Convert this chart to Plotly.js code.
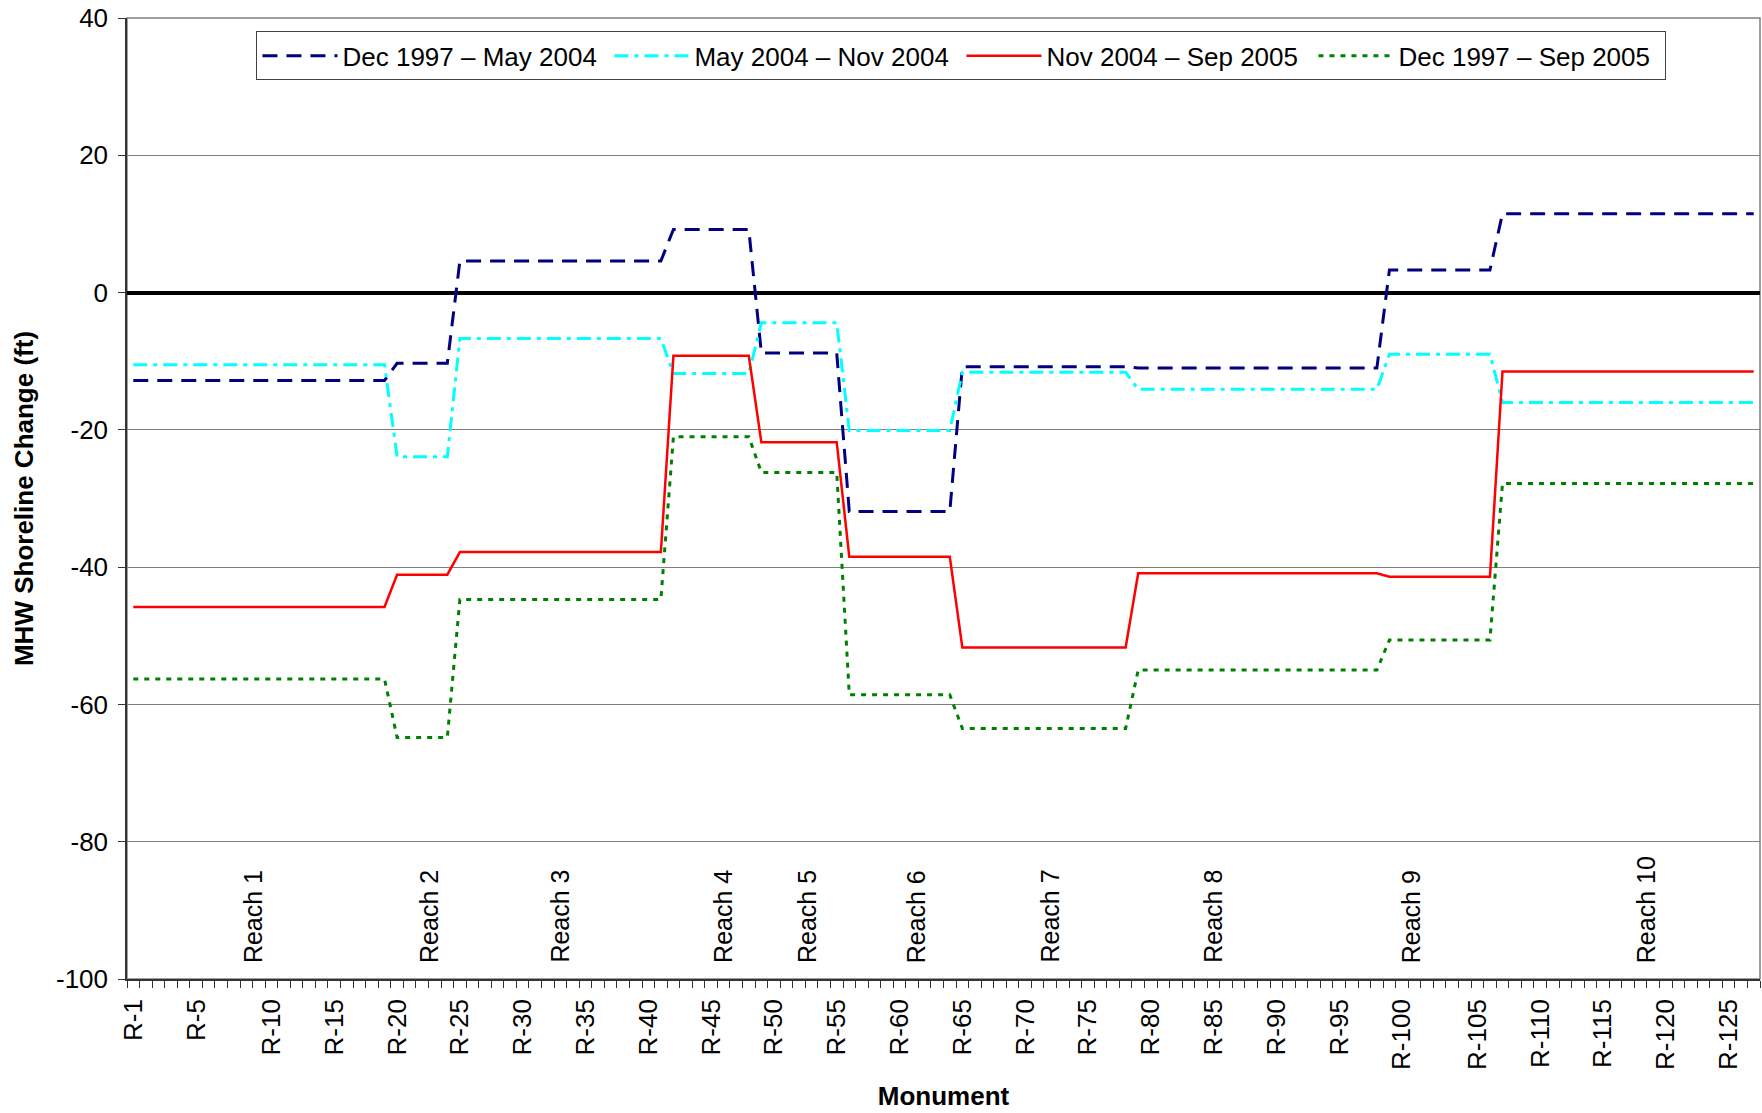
<!DOCTYPE html>
<html>
<head>
<meta charset="utf-8">
<script src="https://cdn.plot.ly/plotly-3.0.1.min.js"></script>
<style>
  html, body { margin: 0; padding: 0; background: #ffffff; }
  #chart { width: 1762px; height: 1113px; }
</style>
</head>
<body>
<div id="chart"></div>
<script>
// Monuments along the x axis (category order)
const monuments = [
  "R-1","R-2","R-3","R-3A","R-4","R-5","R-6","R-7","R-7A","R-8",
  "R-9","R-10","R-11","R-12","R-13","R-14","R-15","R-16","R-17","R-18",
  "R-19","R-20","R-21","R-22","R-23","R-24","R-25","R-26","R-27","R-28",
  "R-29","R-30","R-31","R-32","R-33","R-34","R-35","R-36","R-37","R-38",
  "R-39","R-40","R-41","R-42","R-43","R-44","R-45","R-46","R-47","R-48",
  "R-49","R-50","R-51","R-52","R-53","R-54","R-55","R-56","R-57","R-58",
  "R-59","R-60","R-61","R-62","R-63","R-64","R-65","R-66","R-67","R-68",
  "R-69","R-70","R-71","R-72","R-73","R-74","R-75","R-76","R-77","R-78",
  "R-79","R-80","R-81","R-82","R-83","R-84","R-85","R-86","R-87","R-88",
  "R-89","R-90","R-91","R-92","R-93","R-94","R-95","R-96","R-97","R-98",
  "R-99","R-100","R-101","R-102","R-102A","R-103","R-104","R-105","R-106","R-107",
  "R-108","R-109","R-110","R-111","R-112","R-113","R-114","R-115","R-116","R-117",
  "R-118","R-119","R-120","R-121","R-122","R-123","R-124","R-125","R-126","R-127"
];

// Labelled ticks on the x axis
const tickLabels = ["R-1","R-5","R-10","R-15","R-20","R-25","R-30","R-35","R-40","R-45",
  "R-50","R-55","R-60","R-65","R-70","R-75","R-80","R-85","R-90","R-95",
  "R-100","R-105","R-110","R-115","R-120","R-125"];

// Y tick labels
const yTickVals = [-100, -80, -60, -40, -20, 0, 20, 40];
const yTickText = ["-100", "-80", "-60", "-40", "-20", "0", "20", "40"];

// Series names
const seriesNames = ["Dec 1997 \u2013 May 2004", "May 2004 \u2013 Nov 2004",
                     "Nov 2004 \u2013 Sep 2005", "Dec 1997 \u2013 Sep 2005"];

// MHW shoreline change (ft), one value per monument
const dec97May04 = [
  -12.8,-12.8,-12.8,-12.8,-12.8,-12.8,-12.8,-12.8,-12.8,-12.8,-12.8,-12.8,-12.8,-12.8,-12.8,-12.8,-12.8,-12.8,-12.8,-12.8,-12.8,
  -10.3,-10.3,-10.3,-10.3,-10.3,
  4.6,4.6,4.6,4.6,4.6,4.6,4.6,4.6,4.6,4.6,4.6,4.6,4.6,4.6,4.6,4.6,4.6,
  9.2,9.2,9.2,9.2,9.2,9.2,9.2,
  -8.8,-8.8,-8.8,-8.8,-8.8,-8.8,-8.8,
  -31.9,-31.9,-31.9,-31.9,-31.9,-31.9,-31.9,-31.9,-31.9,
  -10.8,-10.8,-10.8,-10.8,-10.8,-10.8,-10.8,-10.8,-10.8,-10.8,-10.8,-10.8,-10.8,-10.8,
  -11.0,-11.0,-11.0,-11.0,-11.0,-11.0,-11.0,-11.0,-11.0,-11.0,-11.0,-11.0,-11.0,-11.0,-11.0,-11.0,-11.0,-11.0,-11.0,-11.0,
  3.3,3.3,3.3,3.3,3.3,3.3,3.3,3.3,3.3,
  11.5,11.5,11.5,11.5,11.5,11.5,11.5,11.5,11.5,11.5,11.5,11.5,11.5,11.5,11.5,11.5,11.5,11.5,11.5,11.5,11.5
];
const may04Nov04 = [
  -10.5,-10.5,-10.5,-10.5,-10.5,-10.5,-10.5,-10.5,-10.5,-10.5,-10.5,-10.5,-10.5,-10.5,-10.5,-10.5,-10.5,-10.5,-10.5,-10.5,-10.5,
  -23.9,-23.9,-23.9,-23.9,-23.9,
  -6.7,-6.7,-6.7,-6.7,-6.7,-6.7,-6.7,-6.7,-6.7,-6.7,-6.7,-6.7,-6.7,-6.7,-6.7,-6.7,-6.7,
  -11.8,-11.8,-11.8,-11.8,-11.8,-11.8,-11.8,
  -4.4,-4.4,-4.4,-4.4,-4.4,-4.4,-4.4,
  -20.1,-20.1,-20.1,-20.1,-20.1,-20.1,-20.1,-20.1,-20.1,
  -11.6,-11.6,-11.6,-11.6,-11.6,-11.6,-11.6,-11.6,-11.6,-11.6,-11.6,-11.6,-11.6,-11.6,
  -14.1,-14.1,-14.1,-14.1,-14.1,-14.1,-14.1,-14.1,-14.1,-14.1,-14.1,-14.1,-14.1,-14.1,-14.1,-14.1,-14.1,-14.1,-14.1,-14.1,
  -9.0,-9.0,-9.0,-9.0,-9.0,-9.0,-9.0,-9.0,-9.0,
  -16.0,-16.0,-16.0,-16.0,-16.0,-16.0,-16.0,-16.0,-16.0,-16.0,-16.0,-16.0,-16.0,-16.0,-16.0,-16.0,-16.0,-16.0,-16.0,-16.0,-16.0
];
const nov04Sep05 = [
  -45.8,-45.8,-45.8,-45.8,-45.8,-45.8,-45.8,-45.8,-45.8,-45.8,-45.8,-45.8,-45.8,-45.8,-45.8,-45.8,-45.8,-45.8,-45.8,-45.8,-45.8,
  -41.1,-41.1,-41.1,-41.1,-41.1,
  -37.8,-37.8,-37.8,-37.8,-37.8,-37.8,-37.8,-37.8,-37.8,-37.8,-37.8,-37.8,-37.8,-37.8,-37.8,-37.8,-37.8,
  -9.2,-9.2,-9.2,-9.2,-9.2,-9.2,-9.2,
  -21.8,-21.8,-21.8,-21.8,-21.8,-21.8,-21.8,
  -38.5,-38.5,-38.5,-38.5,-38.5,-38.5,-38.5,-38.5,-38.5,
  -51.7,-51.7,-51.7,-51.7,-51.7,-51.7,-51.7,-51.7,-51.7,-51.7,-51.7,-51.7,-51.7,-51.7,
  -40.9,-40.9,-40.9,-40.9,-40.9,-40.9,-40.9,-40.9,-40.9,-40.9,-40.9,-40.9,-40.9,-40.9,-40.9,-40.9,-40.9,-40.9,-40.9,-40.9,
  -41.4,-41.4,-41.4,-41.4,-41.4,-41.4,-41.4,-41.4,-41.4,
  -11.5,-11.5,-11.5,-11.5,-11.5,-11.5,-11.5,-11.5,-11.5,-11.5,-11.5,-11.5,-11.5,-11.5,-11.5,-11.5,-11.5,-11.5,-11.5,-11.5,-11.5
];
const dec97Sep05 = [
  -56.3,-56.3,-56.3,-56.3,-56.3,-56.3,-56.3,-56.3,-56.3,-56.3,-56.3,-56.3,-56.3,-56.3,-56.3,-56.3,-56.3,-56.3,-56.3,-56.3,-56.3,
  -64.8,-64.8,-64.8,-64.8,-64.8,
  -44.7,-44.7,-44.7,-44.7,-44.7,-44.7,-44.7,-44.7,-44.7,-44.7,-44.7,-44.7,-44.7,-44.7,-44.7,-44.7,-44.7,
  -21.0,-21.0,-21.0,-21.0,-21.0,-21.0,-21.0,
  -26.2,-26.2,-26.2,-26.2,-26.2,-26.2,-26.2,
  -58.6,-58.6,-58.6,-58.6,-58.6,-58.6,-58.6,-58.6,-58.6,
  -63.5,-63.5,-63.5,-63.5,-63.5,-63.5,-63.5,-63.5,-63.5,-63.5,-63.5,-63.5,-63.5,-63.5,
  -55.0,-55.0,-55.0,-55.0,-55.0,-55.0,-55.0,-55.0,-55.0,-55.0,-55.0,-55.0,-55.0,-55.0,-55.0,-55.0,-55.0,-55.0,-55.0,-55.0,
  -50.6,-50.6,-50.6,-50.6,-50.6,-50.6,-50.6,-50.6,-50.6,
  -27.8,-27.8,-27.8,-27.8,-27.8,-27.8,-27.8,-27.8,-27.8,-27.8,-27.8,-27.8,-27.8,-27.8,-27.8,-27.8,-27.8,-27.8,-27.8,-27.8,-27.8
];

// Reach labels and where they sit (in monument-index units)
const reachNames = ["Reach 1","Reach 2","Reach 3","Reach 4","Reach 5",
                    "Reach 6","Reach 7","Reach 8","Reach 9","Reach 10"];
const reachPos = [9.5, 23.5, 33.9, 46.9, 53.6, 62.3, 72.9, 85.9, 101.7, 120.4];

// ---- build the chart ----
const FONT = "Liberation Sans, Arial, sans-serif";
const xIdx = monuments.map((m, i) => i);

const styles = [
  { color: "#000080", width: 3,   dash: "15px,9px" },
  { color: "#00FFFF", width: 3,   dash: "14px,6px,4px,6px" },
  { color: "#FF0000", width: 2.5, dash: "solid" },
  { color: "#008000", width: 3,   dash: "5px,6px" }
];
const seriesValues = [dec97May04, may04Nov04, nov04Sep05, dec97Sep05];

const traces = seriesValues.map((vals, k) => ({
  type: "scatter",
  mode: "lines",
  name: seriesNames[k],
  x: xIdx,
  y: vals,
  text: monuments,
  hovertemplate: "%{text}: %{y} ft<extra>" + seriesNames[k] + "</extra>",
  line: styles[k]
}));

const annotations = reachNames.map((name, i) => ({
  x: reachPos[i],
  y: -100,
  xref: "x",
  yref: "y",
  text: name,
  showarrow: false,
  textangle: -90,
  xanchor: "center",
  yanchor: "bottom",
  yshift: 14,
  font: { family: FONT, size: 25, color: "#000000" }
}));

const layout = {
  width: 1762,
  height: 1113,
  margin: { l: 127, r: 2, t: 18, b: 134 },
  paper_bgcolor: "#ffffff",
  plot_bgcolor: "#ffffff",
  font: { family: FONT, size: 26, color: "#000000" },
  showlegend: true,
  legend: {
    orientation: "h",
    x: 0.511,
    xanchor: "center",
    y: 0.986,
    yanchor: "top",
    bgcolor: "#ffffff",
    bordercolor: "#404040",
    borderwidth: 1,
    font: { family: FONT, size: 26, color: "#000000" },
    itemwidth: 75,
    entrywidth: 262,
    traceorder: "normal"
  },
  xaxis: {
    range: [-0.5, monuments.length - 0.5],
    tickmode: "array",
    tickvals: tickLabels.map(l => monuments.indexOf(l)),
    ticktext: tickLabels,
    tickangle: -90,
    ticks: "",
    ticklabelstandoff: 8,
    tickfont: { family: FONT, size: 26, color: "#000000" },
    minor: {
      tickmode: "linear",
      tick0: -0.5,
      dtick: 1,
      ticks: "outside",
      ticklen: 7,
      tickwidth: 1,
      tickcolor: "#333333",
      showgrid: false
    },
    showgrid: false,
    zeroline: false,
    showline: true,
    linecolor: "#333333",
    linewidth: 1.5,
    title: {
      text: "Monument",
      font: { family: FONT, size: 26, color: "#000000", weight: "bold" },
      standoff: 18
    }
  },
  yaxis: {
    range: [-100, 40],
    tickmode: "array",
    tickvals: yTickVals,
    ticktext: yTickText,
    ticks: "outside",
    ticklen: 7,
    tickwidth: 1,
    tickcolor: "#333333",
    ticklabelstandoff: 5,
    tickfont: { family: FONT, size: 26, color: "#000000" },
    showgrid: true,
    gridcolor: "#808080",
    gridwidth: 1,
    zeroline: true,
    zerolinecolor: "#000000",
    zerolinewidth: 4,
    showline: true,
    linecolor: "#333333",
    linewidth: 1.5,
    title: {
      text: "MHW Shoreline Change (ft)",
      font: { family: FONT, size: 26, color: "#000000", weight: "bold" },
      standoff: 15
    }
  },
  shapes: [{
    type: "rect",
    xref: "paper", yref: "paper",
    x0: 0, x1: 1, y0: 0, y1: 1,
    line: { color: "#808080", width: 1.5 },
    layer: "below"
  }],
  annotations: annotations
};

Plotly.newPlot("chart", traces, layout, { displayModeBar: false, responsive: false });
</script>
</body>
</html>
